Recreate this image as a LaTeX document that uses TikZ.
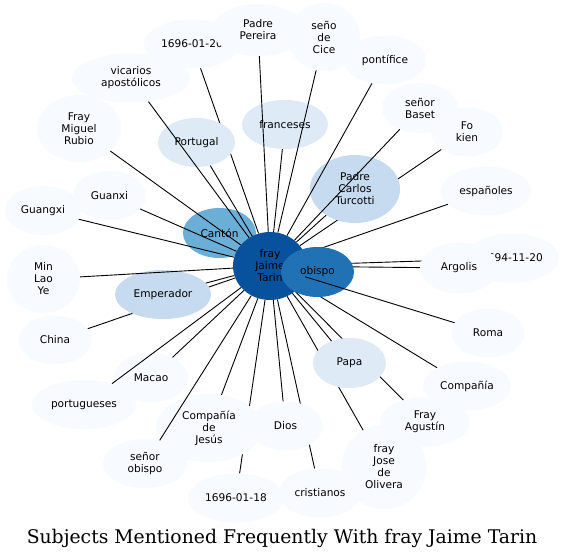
\documentclass[tikz,border=0pt]{standalone}
\usepackage{fontspec}
\newfontfamily\dejavu{DejaVu Sans}
\newfontfamily\dejavuserif{DejaVu Serif}
\usetikzlibrary{shapes.geometric}
\pgfdeclarelayer{background}
\pgfdeclarelayer{canvas}
\pgfsetlayers{canvas,background,main}
\definecolor{bA}{HTML}{F7FBFF}
\definecolor{bB}{HTML}{DEEBF7}
\definecolor{bC}{HTML}{C6DBEF}
\definecolor{bE}{HTML}{6BAED6}
\definecolor{bG}{HTML}{2171B5}
\definecolor{bH}{HTML}{08519C}
\tikzset{
  nd/.style={ellipse, inner sep=0pt, align=center, draw=none,
    font=\dejavu\fontsize{10.6}{12}\selectfont, text=black},
  e/.style={line width=0.9pt, black},
}
\newcommand{\nn}[7]{\node[nd, fill=#6, minimum width=#4pt, minimum height=#5pt] (#1) at (#2,#3) {#7};}
\begin{document}
\begin{tikzpicture}[x=1pt,y=-1pt]
\useasboundingbox (0,0) rectangle (564,559);
\begin{pgfonlayer}{canvas}
\fill[white] (0,0) rectangle (564,559);
\end{pgfonlayer}
% light nodes
\nn{d0120}{192}{44}{96}{49}{bA}{1696-01-20}
\nn{pereira}{258}{30}{92}{52}{bA}{Padre\\Pereira}
\nn{cice}{324}{37}{72}{68}{bA}{seño\\de\\Cice}
\nn{pontifice}{385}{60}{82}{49}{bA}{pontífice}
\nn{vicarios}{131}{78}{118}{49}{bA}{vicarios\\apostólicos}
\nn{rubio}{79}{128.5}{84}{67}{bA}{Fray\\Miguel\\Rubio}
\nn{baset}{420}{108}{76}{50}{bA}{señor\\Baset}
\nn{fokien}{467}{132}{72}{49}{bA}{Fo\\kien}
\nn{espanoles}{486}{191}{90}{49}{bA}{españoles}
\nn{d1694}{512}{258}{94}{49}{bA}{1694-11-20}
\nn{argolis}{459}{268}{78}{51}{bA}{Argolis}
\nn{roma}{488}{333}{73}{49}{bA}{Roma}
\nn{compania}{467}{386}{88}{49}{bA}{Compañía}
\nn{agustin}{425}{422}{90}{49}{bA}{Fray\\Agustín}
\nn{olivera}{384}{467}{85}{84}{bA}{fray\\Jose\\de\\Olivera}
\nn{cristianos}{320}{493}{82}{49}{bA}{cristianos}
\nn{dios}{285.5}{426}{74}{49}{bA}{Dios}
\nn{d0118}{236}{498}{96}{49}{bA}{1696-01-18}
\nn{jesus}{209}{428}{106}{68}{bA}{Compañía\\de\\Jesús}
\nn{senorobispo}{145}{463.5}{84}{49}{bA}{señor\\obispo}
\nn{portugueses}{84}{404.5}{104}{49}{bA}{portugueses}
\nn{macao}{151}{377.5}{74}{49}{bA}{Macao}
\nn{china}{55}{340}{73}{49}{bA}{China}
\nn{minlao}{43.5}{279}{73}{68}{bA}{Min\\Lao\\Ye}
\nn{guangxi}{43}{210.5}{76}{49}{bA}{Guangxi}
\nn{guanxi}{109.5}{195.5}{73}{49}{bA}{Guanxi}
% mid nodes
\nn{portugal}{196.5}{142.5}{77}{49}{bB}{Portugal}
\nn{franceses}{285}{124.5}{86}{49}{bB}{franceses}
\nn{papa}{349.5}{363}{73}{50}{bB}{Papa}
\nn{turcotti}{355}{189}{90}{68}{bC}{Padre\\Carlos\\Turcotti}
\nn{emperador}{163}{294.5}{96}{49}{bC}{Emperador}
\nn{canton}{219.5}{233}{73}{50}{bE}{Cantón}
\nn{c}{270}{266}{74}{68}{bH}{fray\\Jaime\\Tarin}
\nn{obispo}{317.5}{272}{73}{50}{bG}{obispo}
% edges hidden under nodes
\begin{pgfonlayer}{background}
\foreach \t in {d0120,fokien,espanoles,d1694,argolis,compania,agustin,olivera,cristianos,d0118,china,canton,obispo}
  \draw[e] (c) -- (\t);
\end{pgfonlayer}
% edges over nodes
\foreach \t in {pereira,cice,pontifice,vicarios,rubio,baset,roma,dios,jesus,senorobispo,portugueses,macao,minlao,guangxi,guanxi,portugal,franceses,papa,turcotti,emperador}
  \draw[e] (c) -- (\t);
\node[font=\dejavuserif\fontsize{18.8}{22}\selectfont, anchor=base] (title) at (282,543) {Subjects Mentioned Frequently With fray Jaime Tarin};
\end{tikzpicture}
\end{document}
